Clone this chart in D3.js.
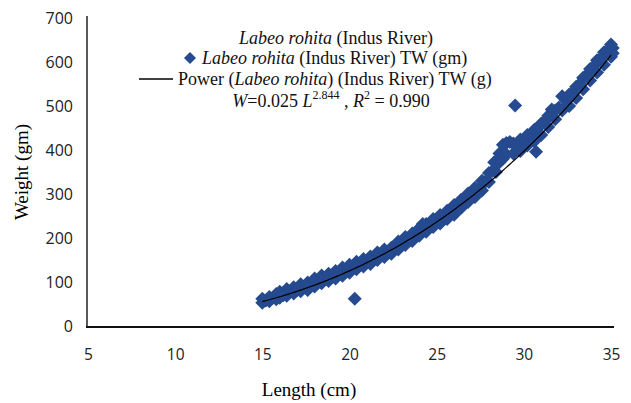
<!DOCTYPE html>
<html>
<head>
<meta charset="utf-8">
<script src="https://cdn.jsdelivr.net/npm/d3@7"></script>
<style>
  body { margin: 0; background: #fff; }
  svg { display: block; }
</style>
</head>
<body>
<svg width="631" height="403"></svg>
<script>
// length (cm) and total weight (gm)
const lengths = [
  15.0, 15.0, 15.2, 15.4, 15.4, 15.6, 15.8, 15.8, 16.0, 16.0, 16.2, 16.4, 16.4, 16.6, 16.8, 16.8,
  17.0, 17.2, 17.2, 17.4, 17.6, 17.6, 17.8, 18.0, 18.0, 18.2, 18.4, 18.4, 18.6, 18.8, 18.8,
  19.0, 19.2, 19.2, 19.4, 19.6, 19.6, 19.8, 20.0, 20.0, 20.2, 20.3, 20.4, 20.4, 20.6, 20.8, 20.8,
  21.0, 21.2, 21.2, 21.4, 21.6, 21.6, 21.8, 22.0, 22.0, 22.2, 22.4, 22.4, 22.6, 22.8, 22.8,
  23.0, 23.2, 23.2, 23.4, 23.6, 23.6, 23.8, 24.0, 24.0, 24.2, 24.4, 24.4, 24.6, 24.8, 24.8,
  25.0, 25.2, 25.2, 25.4, 25.6, 25.6, 25.8, 26.0, 26.0, 26.2, 26.4, 26.4, 26.6, 26.8, 26.8,
  27.0, 27.2, 27.2, 27.4, 27.6, 27.6, 27.8, 28.0, 28.0, 28.2, 28.3, 28.4, 28.4, 28.6, 28.6, 28.8, 28.8,
  29.0, 29.0, 29.2, 29.4, 29.4, 29.5, 29.6, 29.8, 29.8, 30.0, 30.2, 30.2, 30.4, 30.6, 30.6, 30.7,
  30.8, 31.0, 31.0, 31.2, 31.4, 31.4, 31.6, 31.8, 31.8, 32.0, 32.2, 32.2, 32.4, 32.6, 32.6, 32.8,
  33.0, 33.0, 33.2, 33.4, 33.4, 33.6, 33.8, 33.8, 34.0, 34.2, 34.2, 34.4, 34.6, 34.6, 34.8,
  35.0, 35.0, 35.1, 35.1
];
const weights = [
  53, 62, 58, 66, 56, 64, 73, 61, 64, 78, 70, 84, 69, 78, 88, 74,
  82, 95, 79, 88, 99, 82, 94, 108, 90, 99, 115, 97, 106, 119, 102,
  111, 125, 108, 118, 133, 114, 124, 139, 121, 131, 62, 146, 129, 138, 152, 135,
  145, 158, 141, 152, 167, 150, 160, 174, 157, 166, 178, 164, 178, 192, 174,
  184, 202, 184, 196, 210, 193, 208, 222, 205, 232, 232, 214, 226, 243, 225,
  236, 252, 233, 246, 262, 243, 256, 275, 253, 268, 287, 268, 284, 301, 282,
  294, 314, 293, 310, 330, 308, 328, 348, 327, 352, 372, 374, 350, 392, 372, 412, 380,
  416, 390, 418, 415, 392, 501, 414, 424, 398, 424, 434, 410, 436, 446, 420, 396,
  450, 460, 434, 466, 478, 452, 492, 490, 470, 496, 522, 490, 512, 526, 500, 530,
  544, 518, 550, 564, 538, 570, 584, 558, 590, 604, 576, 608, 622, 594, 626,
  640, 612, 632, 620
];
// power trendline coefficients shown in the legend: W = a L^b
const fitA = 0.025;
const fitB = 2.844;

const xTicks = [5, 10, 15, 20, 25, 30, 35];
const yTicks = [0, 100, 200, 300, 400, 500, 600, 700];

const svg = d3.select('svg');
const blue = '#254a8f';
const serif = 'Liberation Serif, Times New Roman, serif';

const x = d3.scaleLinear().domain([5, 35]).range([88, 611]);
const y = d3.scaleLinear().domain([0, 700]).range([326, 18]);

// axes (no tick marks, just labels)
const xAxis = svg.append('g')
  .attr('transform', 'translate(0,327)')
  .call(d3.axisBottom(x).tickValues(xTicks).tickSize(0).tickPadding(22));
xAxis.select('.domain').remove();
xAxis.selectAll('text')
  .attr('font-family', 'Open Sans, sans-serif')
  .attr('font-size', 15.5)
  .attr('fill', '#222');

const yAxis = svg.append('g')
  .attr('transform', 'translate(73,0)')
  .call(d3.axisLeft(y).tickValues(yTicks).tickSize(0).tickPadding(0));
yAxis.select('.domain').remove();
yAxis.selectAll('text')
  .attr('font-family', 'Open Sans, sans-serif')
  .attr('font-size', 16)
  .attr('fill', '#222');

svg.append('line')
  .attr('x1', 87).attr('x2', 87)
  .attr('y1', 16).attr('y2', 327)
  .attr('stroke', '#222').attr('stroke-width', 1.5);
svg.append('line')
  .attr('x1', 86).attr('x2', 614)
  .attr('y1', 327).attr('y2', 327)
  .attr('stroke', '#111').attr('stroke-width', 2.2);

// points
const diamond = 'M0,-7L7,0L0,7L-7,0Z';
svg.append('g')
  .selectAll('path')
  .data(lengths.map((l, i) => [l, weights[i]]))
  .join('path')
  .attr('d', diamond)
  .attr('transform', d => `translate(${x(d[0])},${y(d[1])})`)
  .attr('fill', blue);

// trendline
const fitXs = d3.range(15, 35.01, 0.1);
svg.append('path')
  .datum(fitXs)
  .attr('fill', 'none')
  .attr('stroke', '#000')
  .attr('stroke-width', 1.2)
  .attr('d', d3.line().x(d => x(d)).y(d => y(fitA * Math.pow(d, fitB))));

// axis titles
svg.append('text')
  .attr('x', 309).attr('y', 396)
  .attr('text-anchor', 'middle')
  .attr('font-family', serif)
  .attr('font-size', 19)
  .text('Length (cm)');
svg.append('text')
  .attr('transform', 'translate(28,172) rotate(-90)')
  .attr('text-anchor', 'middle')
  .attr('font-family', serif)
  .attr('font-size', 19)
  .text('Weight (gm)');

// legend
const leg = svg.append('g')
  .attr('font-family', serif)
  .attr('font-size', 18)
  .attr('fill', '#111');

const l1 = leg.append('text').attr('x', 336).attr('y', 44).attr('text-anchor', 'middle');
l1.append('tspan').attr('font-style', 'italic').text('Labeo rohita');
l1.append('tspan').text(' (Indus River)');

leg.append('path')
  .attr('d', 'M0,-6L6,0L0,6L-6,0Z')
  .attr('transform', 'translate(190,58)')
  .attr('fill', blue);
const l2 = leg.append('text').attr('x', 202).attr('y', 64);
l2.append('tspan').attr('font-style', 'italic').text('Labeo rohita');
l2.append('tspan').text(' (Indus River) TW (gm)');

leg.append('line')
  .attr('x1', 139).attr('x2', 173)
  .attr('y1', 79).attr('y2', 79)
  .attr('stroke', '#000').attr('stroke-width', 1.5);
const l3 = leg.append('text').attr('x', 178).attr('y', 85);
l3.append('tspan').text('Power (');
l3.append('tspan').attr('font-style', 'italic').text('Labeo rohita');
l3.append('tspan').text(') (Indus River) TW (g)');

const l4 = leg.append('text').attr('x', 331).attr('y', 107).attr('text-anchor', 'middle');
l4.append('tspan').attr('font-style', 'italic').text('W');
l4.append('tspan').text('=0.025 ');
l4.append('tspan').attr('font-style', 'italic').text('L');
l4.append('tspan').attr('font-size', 12).attr('dy', -8).text('2.844');
l4.append('tspan').attr('dy', 8).text(' , ');
l4.append('tspan').attr('font-style', 'italic').text('R');
l4.append('tspan').attr('font-size', 12).attr('dy', -8).text('2');
l4.append('tspan').attr('dy', 8).text(' = 0.990');
</script>
</body>
</html>
